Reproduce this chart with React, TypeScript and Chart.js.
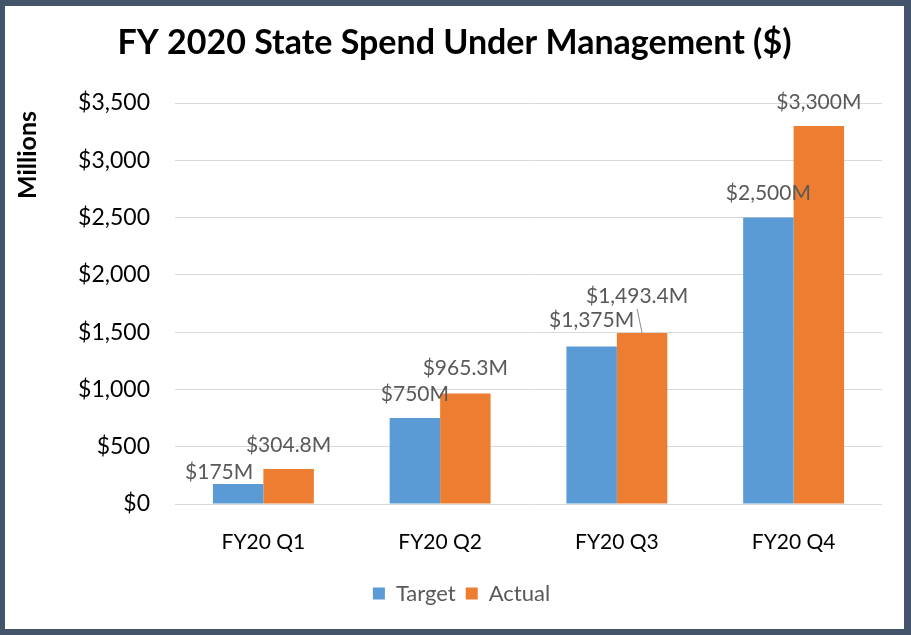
import React, { useEffect, useRef } from "react";
import { Chart, registerables } from "chart.js";

Chart.register(...registerables);

const categories = ["FY20 Q1", "FY20 Q2", "FY20 Q3", "FY20 Q4"];
const targetValues = [175, 750, 1375, 2500];
const actualValues = [304.8, 965.3, 1493.4, 3300];
const yTicks = [0, 500, 1000, 1500, 2000, 2500, 3000, 3500];
const chartTitle = "FY 2020 State Spend Under Management ($)";
const yAxisTitle = "Millions";

// label nudges (style): [dx, dy] per series per category
const LABEL_NUDGE: number[][][] = [
  [[-19, -12], [0, -24], [0, -26], [0, -24]],
  [[0, -24], [0, -25], [-5, -37], [0, -24]],
];

const FONT = "Lato, 'Open Sans', sans-serif";

const fmtLabel = (v: number) =>
  "$" + v.toLocaleString("en-US", { maximumFractionDigits: 1 }) + "M";

const labelPlugin = {
  id: "barLabels",
  afterDatasetsDraw(chart: any) {
    const ctx = chart.ctx;
    ctx.save();
    ctx.font = `21px ${FONT}`;
    ctx.fillStyle = "#595959";
    ctx.textAlign = "center";
    ctx.textBaseline = "middle";
    chart.data.datasets.forEach((ds: any, di: number) => {
      const meta = chart.getDatasetMeta(di);
      meta.data.forEach((bar: any, i: number) => {
        const [dx, dy] = LABEL_NUDGE[di][i];
        const x = bar.x + dx;
        const y = bar.y + dy;
        ctx.fillText(fmtLabel(ds.data[i]), x, y);
        if (dy < -30) {
          ctx.strokeStyle = "#8c8c8c";
          ctx.lineWidth = 1;
          ctx.beginPath();
          ctx.moveTo(x, y + 13);
          ctx.lineTo(bar.x, bar.y);
          ctx.stroke();
        }
      });
    });
    ctx.restore();
  },
};

const titlesPlugin = {
  id: "titles",
  afterDraw(chart: any) {
    const ctx = chart.ctx;
    ctx.save();
    ctx.fillStyle = "#000000";
    ctx.textAlign = "center";
    ctx.textBaseline = "middle";
    ctx.font = `bold 34px ${FONT}`;
    ctx.fillText(chartTitle, chart.width / 2, 37);
    ctx.translate(23, 149);
    ctx.rotate(-Math.PI / 2);
    ctx.font = `bold 25px ${FONT}`;
    ctx.fillText(yAxisTitle, 0, 0);
    ctx.restore();
  },
};

export default function App() {
  const ref = useRef<HTMLCanvasElement>(null);
  useEffect(() => {
    if (!ref.current) return;
    const chart = new Chart(ref.current, {
      type: "bar",
      data: {
        labels: categories,
        datasets: [
          {
            label: "Target",
            data: targetValues,
            backgroundColor: "#5B9BD5",
            categoryPercentage: 0.571,
            barPercentage: 1.0,
          },
          {
            label: "Actual",
            data: actualValues,
            backgroundColor: "#ED7D31",
            categoryPercentage: 0.571,
            barPercentage: 1.0,
          },
        ],
      },
      options: {
        animation: false,
        responsive: false,
        maintainAspectRatio: false,
        layout: { padding: { left: 36, right: 22, top: 97, bottom: 14.5 } },
        plugins: {
          title: { display: false },
          legend: {
            position: "bottom",
            labels: {
              boxWidth: 12,
              boxHeight: 12,
              padding: 10,
              color: "#595959",
              font: { family: FONT, size: 22 },
            },
          },
          tooltip: { enabled: false },
        },
        scales: {
          x: {
            grid: { display: false, drawTicks: false },
            border: { display: false },
            ticks: {
              color: "#000000",
              padding: 25.4,
              font: { family: FONT, size: 21 },
            },
            afterFit(scale: any) {
              scale.height = 68.5;
            },
          },
          y: {
            min: 0,
            max: 3500,
            afterBuildTicks(scale: any) {
              scale.ticks = yTicks.map((v) => ({ value: v }));
            },
            grid: { color: "#d9d9d9", lineWidth: 1, drawTicks: false },
            border: { display: false },
            ticks: {
              color: "#000000",
              padding: 25,
              font: { family: FONT, size: 23 },
              callback: (v: any) => "$" + Number(v).toLocaleString("en-US"),
            },
            afterFit(scale: any) {
              scale.width = 134;
            },
          },
        },
      },
      plugins: [labelPlugin, titlesPlugin],
    });
    return () => chart.destroy();
  }, []);

  return (
    <div
      style={{
        position: "absolute",
        left: 0,
        top: 0,
        width: 911,
        height: 635,
        boxSizing: "border-box",
        borderStyle: "solid",
        borderColor: "#44546A",
        borderWidth: "6px 7px 6px 5px",
        background: "#ffffff",
      }}
    >
      <canvas ref={ref} width={899} height={623} style={{ display: "block" }} />
    </div>
  );
}
